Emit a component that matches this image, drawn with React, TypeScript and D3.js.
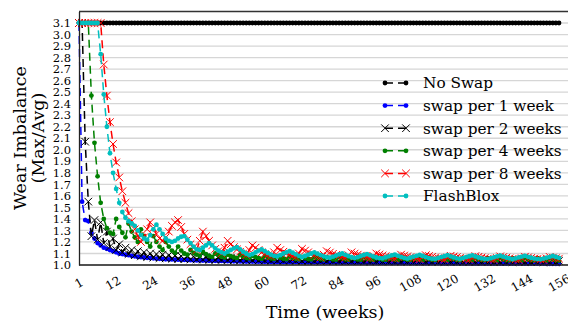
import React, { useEffect, useRef } from 'react';
import * as d3 from 'd3';

// weekly values, weeks 1..156
const noSwap = [
  3.1, 3.1, 3.1, 3.1, 3.1, 3.1, 3.1, 3.1, 3.1, 3.1, 3.1, 3.1,
  3.1, 3.1, 3.1, 3.1, 3.1, 3.1, 3.1, 3.1, 3.1, 3.1, 3.1, 3.1,
  3.1, 3.1, 3.1, 3.1, 3.1, 3.1, 3.1, 3.1, 3.1, 3.1, 3.1, 3.1,
  3.1, 3.1, 3.1, 3.1, 3.1, 3.1, 3.1, 3.1, 3.1, 3.1, 3.1, 3.1,
  3.1, 3.1, 3.1, 3.1, 3.1, 3.1, 3.1, 3.1, 3.1, 3.1, 3.1, 3.1,
  3.1, 3.1, 3.1, 3.1, 3.1, 3.1, 3.1, 3.1, 3.1, 3.1, 3.1, 3.1,
  3.1, 3.1, 3.1, 3.1, 3.1, 3.1, 3.1, 3.1, 3.1, 3.1, 3.1, 3.1,
  3.1, 3.1, 3.1, 3.1, 3.1, 3.1, 3.1, 3.1, 3.1, 3.1, 3.1, 3.1,
  3.1, 3.1, 3.1, 3.1, 3.1, 3.1, 3.1, 3.1, 3.1, 3.1, 3.1, 3.1,
  3.1, 3.1, 3.1, 3.1, 3.1, 3.1, 3.1, 3.1, 3.1, 3.1, 3.1, 3.1,
  3.1, 3.1, 3.1, 3.1, 3.1, 3.1, 3.1, 3.1, 3.1, 3.1, 3.1, 3.1,
  3.1, 3.1, 3.1, 3.1, 3.1, 3.1, 3.1, 3.1, 3.1, 3.1, 3.1, 3.1,
  3.1, 3.1, 3.1, 3.1, 3.1, 3.1, 3.1, 3.1, 3.1, 3.1, 3.1, 3.1,
];

const swap1 = [
  3.10, 1.55, 1.39, 1.38, 1.28, 1.23, 1.19, 1.17, 1.15, 1.14, 1.13, 1.12,
  1.11, 1.10, 1.095, 1.09, 1.085, 1.08, 1.075, 1.07, 1.068, 1.065, 1.062, 1.06,
  1.058, 1.056, 1.054, 1.052, 1.05, 1.049, 1.048, 1.047, 1.046, 1.045, 1.044, 1.043,
  1.042, 1.041, 1.04, 1.04, 1.039, 1.038, 1.037, 1.037, 1.036, 1.035, 1.035, 1.034,
  1.033, 1.033, 1.032, 1.032, 1.031, 1.031, 1.03, 1.03, 1.03, 1.029, 1.029, 1.028,
  1.028, 1.028, 1.027, 1.027, 1.027, 1.026, 1.026, 1.026, 1.025, 1.025, 1.025, 1.024,
  1.024, 1.024, 1.024, 1.023, 1.023, 1.023, 1.023, 1.022, 1.022, 1.022, 1.022, 1.021,
  1.021, 1.021, 1.021, 1.021, 1.02, 1.02, 1.02, 1.02, 1.02, 1.019, 1.019, 1.019,
  1.019, 1.019, 1.018, 1.018, 1.018, 1.018, 1.018, 1.018, 1.017, 1.017, 1.017, 1.017,
  1.017, 1.017, 1.016, 1.016, 1.016, 1.016, 1.016, 1.016, 1.016, 1.015, 1.015, 1.015,
  1.015, 1.015, 1.015, 1.015, 1.014, 1.014, 1.014, 1.014, 1.014, 1.014, 1.014, 1.014,
  1.013, 1.013, 1.013, 1.013, 1.013, 1.013, 1.013, 1.013, 1.013, 1.012, 1.012, 1.012,
  1.012, 1.012, 1.012, 1.012, 1.012, 1.012, 1.012, 1.011, 1.011, 1.011, 1.011, 1.011,
];

const swap2 = [
  3.10, 3.10, 2.07, 1.55, 1.25, 1.39, 1.22, 1.37, 1.19, 1.29, 1.16, 1.23,
  1.13, 1.18, 1.11, 1.15, 1.095, 1.13, 1.085, 1.12, 1.075, 1.11, 1.07, 1.10,
  1.065, 1.095, 1.06, 1.09, 1.058, 1.085, 1.055, 1.08, 1.053, 1.077, 1.051, 1.074,
  1.05, 1.071, 1.048, 1.069, 1.047, 1.067, 1.046, 1.065, 1.045, 1.063, 1.044, 1.062,
  1.043, 1.06, 1.042, 1.059, 1.041, 1.058, 1.04, 1.057, 1.04, 1.056, 1.039, 1.055,
  1.038, 1.054, 1.038, 1.053, 1.037, 1.052, 1.037, 1.051, 1.036, 1.05, 1.036, 1.05,
  1.035, 1.049, 1.035, 1.048, 1.034, 1.048, 1.034, 1.047, 1.033, 1.047, 1.033, 1.046,
  1.033, 1.046, 1.032, 1.045, 1.032, 1.045, 1.032, 1.044, 1.031, 1.044, 1.031, 1.043,
  1.031, 1.043, 1.03, 1.043, 1.03, 1.042, 1.03, 1.042, 1.03, 1.042, 1.029, 1.041,
  1.029, 1.041, 1.029, 1.041, 1.029, 1.04, 1.028, 1.04, 1.028, 1.04, 1.028, 1.04,
  1.028, 1.039, 1.028, 1.039, 1.027, 1.039, 1.027, 1.039, 1.027, 1.038, 1.027, 1.038,
  1.027, 1.038, 1.026, 1.038, 1.026, 1.038, 1.026, 1.037, 1.026, 1.037, 1.026, 1.037,
  1.026, 1.037, 1.025, 1.037, 1.025, 1.036, 1.025, 1.036, 1.025, 1.036, 1.025, 1.036,
];

const swap4 = [
  3.10, 3.10, 3.10, 3.10, 2.47, 2.06, 1.77, 1.54, 1.40, 1.32, 1.28, 1.27,
  1.40, 1.33, 1.28, 1.24, 1.36, 1.29, 1.24, 1.20, 1.31, 1.25, 1.20, 1.16,
  1.25, 1.20, 1.16, 1.13, 1.20, 1.16, 1.125, 1.105, 1.16, 1.125, 1.10, 1.09,
  1.13, 1.105, 1.09, 1.08, 1.115, 1.095, 1.08, 1.07, 1.10, 1.085, 1.072, 1.065,
  1.09, 1.077, 1.066, 1.06, 1.085, 1.072, 1.062, 1.057, 1.08, 1.068, 1.059, 1.054,
  1.077, 1.065, 1.057, 1.052, 1.075, 1.063, 1.055, 1.05, 1.073, 1.061, 1.053, 1.049,
  1.071, 1.06, 1.052, 1.048, 1.07, 1.059, 1.051, 1.047, 1.069, 1.058, 1.05, 1.046,
  1.068, 1.057, 1.049, 1.045, 1.067, 1.056, 1.048, 1.045, 1.066, 1.055, 1.048, 1.044,
  1.065, 1.055, 1.047, 1.044, 1.065, 1.054, 1.047, 1.043, 1.064, 1.053, 1.046, 1.043,
  1.063, 1.053, 1.046, 1.042, 1.063, 1.052, 1.045, 1.042, 1.062, 1.052, 1.045, 1.042,
  1.062, 1.051, 1.045, 1.041, 1.061, 1.051, 1.044, 1.041, 1.061, 1.05, 1.044, 1.041,
  1.06, 1.05, 1.044, 1.04, 1.06, 1.05, 1.043, 1.04, 1.06, 1.049, 1.043, 1.04,
  1.059, 1.049, 1.043, 1.04, 1.059, 1.049, 1.043, 1.039, 1.058, 1.048, 1.042, 1.039,
];

const swap8 = [
  3.10, 3.10, 3.10, 3.10, 3.10, 3.10, 3.10, 3.10, 2.74, 2.47, 2.24, 2.05,
  1.89, 1.76, 1.64, 1.54, 1.45, 1.38, 1.31, 1.25, 1.20, 1.24, 1.31, 1.37,
  1.32, 1.27, 1.23, 1.21, 1.24, 1.29, 1.34, 1.37, 1.39, 1.33, 1.27, 1.22,
  1.18, 1.15, 1.13, 1.21, 1.29, 1.25, 1.21, 1.17, 1.14, 1.12, 1.10, 1.15,
  1.21, 1.18, 1.155, 1.135, 1.115, 1.10, 1.085, 1.13, 1.17, 1.15, 1.13, 1.11,
  1.095, 1.085, 1.075, 1.11, 1.15, 1.13, 1.115, 1.10, 1.09, 1.078, 1.068, 1.10,
  1.14, 1.125, 1.11, 1.097, 1.085, 1.075, 1.065, 1.09, 1.12, 1.108, 1.097, 1.087,
  1.078, 1.07, 1.062, 1.085, 1.11, 1.099, 1.09, 1.081, 1.073, 1.066, 1.058, 1.08,
  1.10, 1.091, 1.083, 1.076, 1.069, 1.062, 1.055, 1.072, 1.09, 1.082, 1.075, 1.068,
  1.062, 1.056, 1.05, 1.068, 1.085, 1.078, 1.071, 1.065, 1.06, 1.054, 1.049, 1.065,
  1.08, 1.074, 1.068, 1.062, 1.057, 1.052, 1.047, 1.062, 1.077, 1.071, 1.065, 1.06,
  1.055, 1.05, 1.046, 1.06, 1.075, 1.069, 1.064, 1.058, 1.053, 1.049, 1.045, 1.058,
  1.072, 1.066, 1.061, 1.056, 1.052, 1.048, 1.044, 1.057, 1.07, 1.064, 1.059, 1.055,
];

const flashBlox = [
  3.10, 3.10, 3.10, 3.10, 3.10, 3.10, 3.10, 2.83, 2.48, 2.20, 1.97, 1.80,
  1.66, 1.54, 1.46, 1.41, 1.38, 1.36, 1.34, 1.30, 1.26, 1.23, 1.22, 1.26,
  1.31, 1.35, 1.31, 1.27, 1.23, 1.21, 1.20, 1.21, 1.23, 1.245, 1.25, 1.22,
  1.19, 1.16, 1.135, 1.13, 1.15, 1.17, 1.19, 1.17, 1.145, 1.125, 1.11, 1.10,
  1.115, 1.13, 1.145, 1.155, 1.135, 1.115, 1.10, 1.085, 1.095, 1.11, 1.125, 1.135,
  1.12, 1.105, 1.09, 1.08, 1.075, 1.085, 1.10, 1.11, 1.12, 1.107, 1.093, 1.08,
  1.068, 1.078, 1.09, 1.10, 1.11, 1.098, 1.086, 1.075, 1.067, 1.063, 1.072, 1.082,
  1.092, 1.10, 1.088, 1.077, 1.068, 1.06, 1.068, 1.078, 1.087, 1.095, 1.084, 1.074,
  1.065, 1.06, 1.057, 1.066, 1.075, 1.083, 1.09, 1.08, 1.07, 1.062, 1.055, 1.063,
  1.072, 1.08, 1.088, 1.078, 1.068, 1.06, 1.055, 1.053, 1.061, 1.069, 1.077, 1.085,
  1.075, 1.066, 1.058, 1.052, 1.06, 1.068, 1.076, 1.083, 1.074, 1.065, 1.058, 1.053,
  1.051, 1.059, 1.067, 1.074, 1.081, 1.072, 1.064, 1.057, 1.05, 1.058, 1.066, 1.073,
  1.08, 1.071, 1.063, 1.056, 1.051, 1.049, 1.056, 1.064, 1.071, 1.078, 1.07, 1.062,
];

const yTicks = [1.0, 1.1, 1.2, 1.3, 1.4, 1.5, 1.6, 1.7, 1.8, 1.9, 2.0, 2.1, 2.2, 2.3, 2.4, 2.5, 2.6, 2.7, 2.8, 2.9, 3.0, 3.1];
const xTicks = [1, 12, 24, 36, 48, 60, 72, 84, 96, 108, 120, 132, 144, 156];
const seriesLabels = ['No Swap', 'swap per 1 week', 'swap per 2 weeks', 'swap per 4 weeks', 'swap per 8 weeks', 'FlashBlox'];

type Marker = 'dot' | 'x';
interface Series {
  label: string;
  values: number[];
  color: string;
  marker: Marker;
}

const series: Series[] = [
  { label: seriesLabels[0], values: noSwap, color: '#000000', marker: 'dot' },
  { label: seriesLabels[1], values: swap1, color: '#0000ff', marker: 'dot' },
  { label: seriesLabels[2], values: swap2, color: '#000000', marker: 'x' },
  { label: seriesLabels[3], values: swap4, color: '#008000', marker: 'dot' },
  { label: seriesLabels[4], values: swap8, color: '#ff0000', marker: 'x' },
  { label: seriesLabels[5], values: flashBlox, color: '#00bfbf', marker: 'dot' },
];

const FONT = '"DejaVu Serif", serif';
const xPath = 'M-3.8,-3.8L3.8,3.8M-3.8,3.8L3.8,-3.8';
const DASH = '8,5';

const App: React.FC = () => {
  const svgRef = useRef<SVGSVGElement | null>(null);

  useEffect(() => {
    if (!svgRef.current) return;
    const svg = d3.select(svgRef.current);
    svg.selectAll('*').remove();

    const left = 79;
    const top = 11.5;
    const bottom = 265;
    const right = 600; // frame runs past the crop

    const x = d3.scaleLinear().domain([1, 156]).range([79, 559]);
    const y = d3.scaleLinear().domain([1.0, 3.2]).range([bottom, top]);

    svg.append('rect').attr('width', 568).attr('height', 322).attr('fill', '#fff');

    // grid
    svg.append('g')
      .selectAll('line')
      .data(yTicks)
      .enter()
      .append('line')
      .attr('x1', left)
      .attr('x2', right)
      .attr('y1', (d) => y(d))
      .attr('y2', (d) => y(d))
      .attr('stroke', '#d6d6d6')
      .attr('stroke-width', 1.3);

    // series
    const weeks = d3.range(1, 157);
    series.forEach((s) => {
      const line = d3
        .line<number>()
        .x((_, i) => x(weeks[i]))
        .y((d) => y(d));
      const g = svg.append('g');
      g.append('path')
        .datum(s.values)
        .attr('fill', 'none')
        .attr('stroke', s.color)
        .attr('stroke-width', 1.5)
        .attr('stroke-dasharray', DASH)
        .attr('d', line);
      if (s.marker === 'dot') {
        g.selectAll('circle')
          .data(s.values)
          .enter()
          .append('circle')
          .attr('cx', (_, i) => x(weeks[i]))
          .attr('cy', (d) => y(d))
          .attr('r', 2.4)
          .attr('fill', s.color);
      } else {
        g.selectAll('path.mk')
          .data(s.values)
          .enter()
          .append('path')
          .attr('class', 'mk')
          .attr('transform', (d, i) => `translate(${x(weeks[i])},${y(d)})`)
          .attr('d', xPath)
          .attr('fill', 'none')
          .attr('stroke', s.color)
          .attr('stroke-width', 1);
      }
    });

    // frame
    svg.append('line').attr('x1', left).attr('x2', right).attr('y1', top).attr('y2', top)
      .attr('stroke', '#333').attr('stroke-width', 1.3);

    // Y axis
    const yAxis = svg.append('g')
      .attr('transform', `translate(${left},0)`)
      .call(d3.axisLeft(y).tickValues(yTicks).tickSize(0).tickSizeOuter(0).tickPadding(8).tickFormat(d3.format('.1f')));
    yAxis.select('.domain').attr('stroke', '#222').attr('stroke-width', 1.3);
    yAxis.selectAll('text').attr('font-family', FONT).attr('font-size', 11.5).attr('fill', '#000');

    // X axis
    const xAxis = svg.append('g').attr('transform', `translate(0,${bottom})`);
    xAxis.append('line').attr('x1', left).attr('x2', right).attr('stroke', '#222').attr('stroke-width', 1.3);
    xAxis.selectAll('text')
      .data(xTicks)
      .enter()
      .append('text')
      .attr('transform', (d) => `translate(${x(d)},${18}) rotate(-30)`)
      .attr('text-anchor', 'middle')
      .attr('dy', '0.35em')
      .attr('font-family', FONT)
      .attr('font-size', 12)
      .text((d) => d);

    // titles
    svg.append('text')
      .attr('x', 325)
      .attr('y', 318)
      .attr('text-anchor', 'middle')
      .attr('font-family', FONT)
      .attr('font-size', 17.5)
      .text('Time (weeks)');
    const yt = svg.append('g').attr('font-family', FONT).attr('font-size', 17.5).attr('text-anchor', 'middle');
    yt.append('text').attr('transform', 'translate(26,138) rotate(-90)').text('Wear Imbalance');
    yt.append('text').attr('transform', 'translate(44,138) rotate(-90)').text('(Max/Avg)');

    // legend
    const legend = svg.append('g');
    series.forEach((s, i) => {
      const ly = 83 + i * 22.6;
      const row = legend.append('g').attr('transform', `translate(0,${ly})`);
      row.append('line')
        .attr('x1', 385).attr('x2', 406)
        .attr('stroke', s.color).attr('stroke-width', 1.5)
        .attr('stroke-dasharray', DASH);
      [385, 406].forEach((mx) => {
        if (s.marker === 'dot') {
          row.append('circle').attr('cx', mx).attr('cy', 0).attr('r', 2.4).attr('fill', s.color);
        } else {
          row.append('path').attr('transform', `translate(${mx},0)`).attr('d', xPath)
            .attr('fill', 'none').attr('stroke', s.color).attr('stroke-width', 1);
        }
      });
      row.append('text')
        .attr('x', 423)
        .attr('y', 0)
        .attr('dy', '0.35em')
        .attr('font-family', FONT)
        .attr('font-size', 15.3)
        .text(s.label);
    });
  }, []);

  return (
    <div style={{ position: 'absolute', left: 0, top: 0 }}>
      <svg ref={svgRef} width={568} height={322} />
    </div>
  );
};

export default App;
